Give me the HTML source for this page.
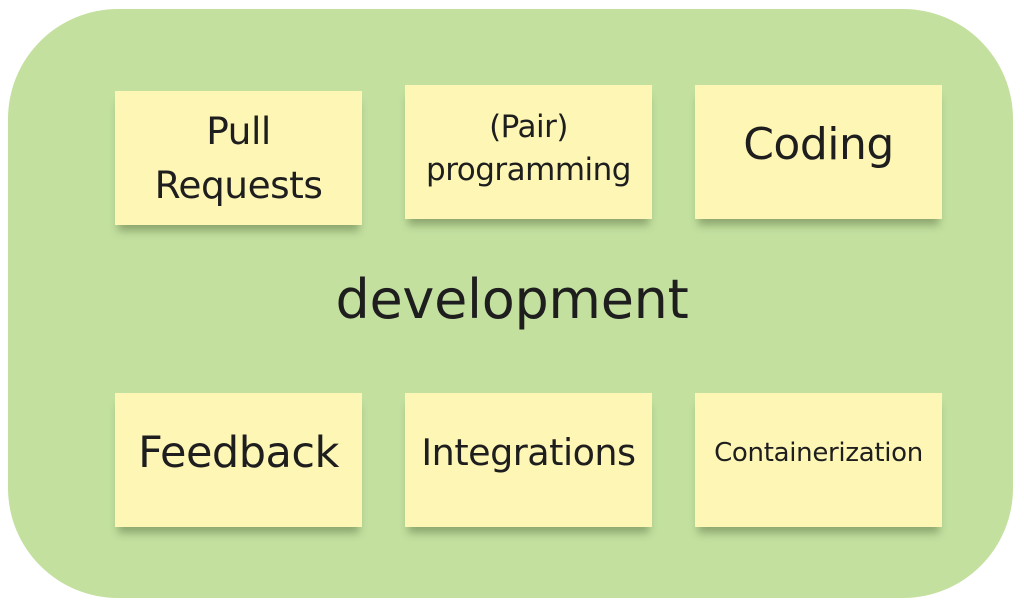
<!DOCTYPE html>
<html><head><style>
body{margin:0;width:1024px;height:610px;background:#fff;position:relative;overflow:hidden;font-family:"DejaVu Sans","Liberation Sans",sans-serif;color:#1e1e1e}
.bg{position:absolute;left:8px;top:9px;width:1005px;height:589px;background:#c3e09f;border-radius:110px}
.s{position:absolute;width:247px;height:134px;background:#fdf6b5;box-shadow:0 9px 8px -3px rgba(60,80,40,.4);display:flex;align-items:center;justify-content:center;text-align:center;line-height:1.4;white-space:nowrap}
.t{position:absolute;width:100%;text-align:center;left:0}
</style></head><body>
<div class="bg"></div>
<div class="s" style="left:115px;top:91px;font-size:37.5px;line-height:1.45;letter-spacing:-0.5px">Pull<br>Requests</div>
<div class="s" style="left:405px;top:85px;font-size:31px;line-height:1.4;letter-spacing:-0.5px;padding-bottom:6px;box-sizing:border-box">(Pair)<br>programming</div>
<div class="s" style="left:695px;top:85px;font-size:44px;padding-bottom:14px;box-sizing:border-box;letter-spacing:-0.5px">Coding</div>
<div class="s" style="left:115px;top:393px;font-size:43px;padding-bottom:14px;box-sizing:border-box;letter-spacing:-0.5px">Feedback</div>
<div class="s" style="left:405px;top:393px;font-size:36.5px;padding-bottom:14px;box-sizing:border-box;letter-spacing:-0.5px">Integrations</div>
<div class="s" style="left:695px;top:393px;font-size:26px;padding-bottom:14px;box-sizing:border-box;letter-spacing:-0.3px">Containerization</div>
<div class="t" style="top:268px;font-size:54px;left:0;letter-spacing:-0.3px">development</div>
</body></html>
